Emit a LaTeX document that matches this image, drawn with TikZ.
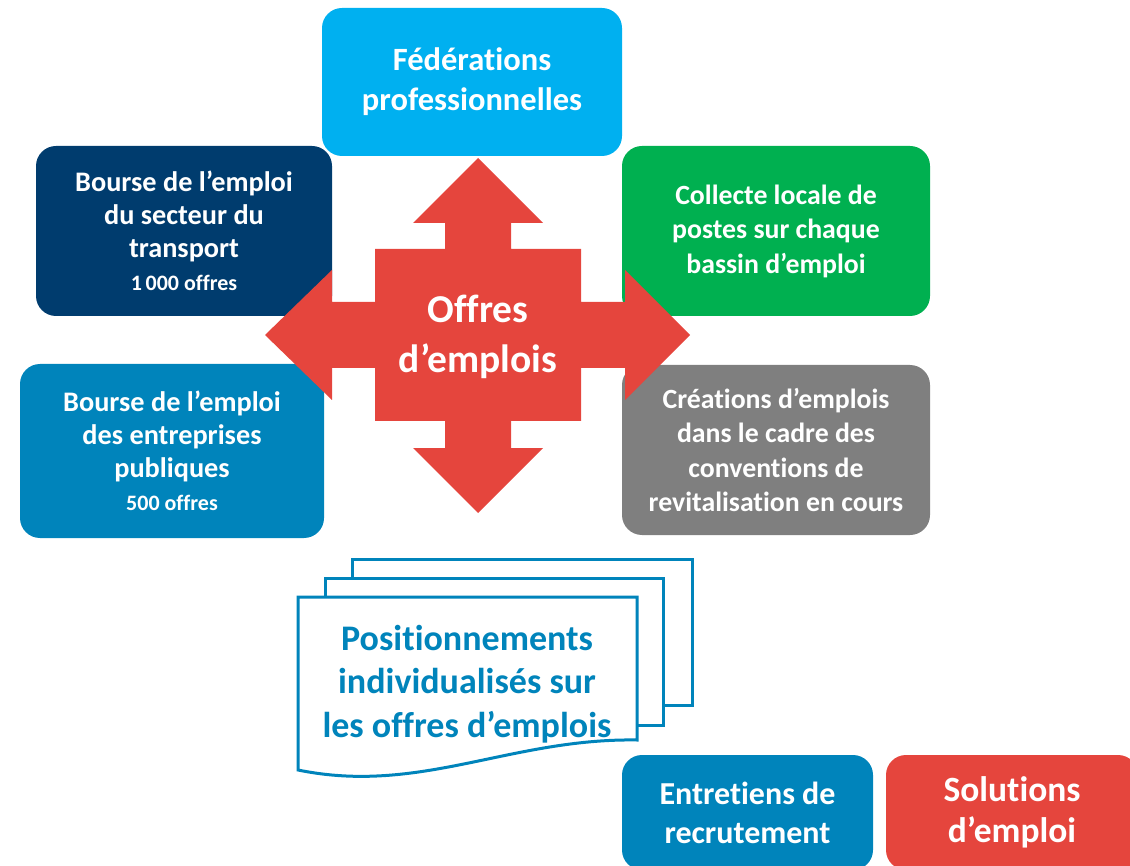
\documentclass[tikz,border=0pt]{standalone}
\usepackage{fontspec}
\setmainfont{Carlito}[Ligatures=NoCommon]
\usepackage{xcolor}
\usepackage{tikz}
\definecolor{ciel}{HTML}{00B0F0}
\definecolor{marine}{HTML}{003C6E}
\definecolor{vert}{HTML}{00B050}
\definecolor{bleu}{HTML}{0084BB}
\definecolor{gris}{HTML}{7F7F7F}
\definecolor{rouge}{HTML}{E5453D}

\begin{document}
\begin{tikzpicture}[x=1pt,y=-1pt,
	boite/.style={rounded corners=20pt,inner sep=0pt,align=center,text=white},
	feuille/.style={draw=bleu,line width=3pt,fill=white}]
	\useasboundingbox (0,0) rectangle (1130,866);
	\clip (0,0) rectangle (1130,866);
	% les cinq sources d'offres
	\node[boite,fill=ciel,minimum width=300pt,minimum height=148pt,font=\bfseries\fontsize{32.5}{40}\selectfont] (federations) at (472,82) {Fédérations\\professionnelles};
	\node[boite,fill=marine,minimum width=296pt,minimum height=170pt,font=\bfseries\fontsize{28.3}{33}\selectfont] (transport) at (184,231) {Bourse de l’emploi\\du secteur du\\transport\\{\fontsize{22}{26}\selectfont 1\,000 offres}};
	\node[boite,fill=vert,minimum width=308pt,minimum height=170pt,font=\bfseries\fontsize{27.8}{34.5}\selectfont] (collecte) at (776,231) {Collecte locale de\\postes sur chaque\\bassin d’emploi};
	\node[boite,fill=bleu,minimum width=304pt,minimum height=174pt,font=\bfseries\fontsize{28.3}{33}\selectfont] (publiques) at (172,451) {Bourse de l’emploi\\des entreprises\\publiques\\{\fontsize{22}{26}\selectfont 500 offres}};
	\node[boite,fill=gris,minimum width=308pt,minimum height=170pt,font=\bfseries\fontsize{27.8}{34.3}\selectfont] (creations) at (776,450) {Créations d’emplois\\dans le cadre des\\conventions de\\revitalisation en cours};
	% la croix
	\fill[rouge] (478,158) -- (543,223) -- (511,223) -- (511,249) -- (581,249) -- (581,302) -- (625,302) -- (625,270) -- (690,335) -- (625,400) -- (625,368) -- (581,368) -- (581,421) -- (511,421) -- (511,448) -- (543,448) -- (478,513) -- (413,448) -- (445,448) -- (445,421) -- (375,421) -- (375,368) -- (332,368) -- (332,400) -- (265,335) -- (332,270) -- (332,302) -- (375,302) -- (375,249) -- (445,249) -- (445,223) -- (413,223) -- cycle;
	\node[align=center,text=white,font=\bfseries\fontsize{39.5}{50}\selectfont] (offres) at (478,337) {Offres\\d’emplois};
	% pile de documents
	\draw[feuille] (352,559) rectangle (692,705);
	\draw[feuille] (325,578) rectangle (663,725);
	\draw[feuille] (298,597) -- (637,597) -- (637,740) .. controls (510,738) and (420,795) .. (298,770) -- cycle;
	\node[align=center,text=bleu,font=\bfseries\fontsize{36}{43.5}\selectfont] (positionnements) at (467,684) {Positionnements\\individualisés sur\\les offres d’emplois};
	% en bas
	\node[boite,fill=bleu,minimum width=251pt,minimum height=115pt,font=\bfseries\fontsize{32}{39}\selectfont] (entretiens) at (747.5,812.5) {Entretiens de\\recrutement};
	\node[boite,fill=rouge,minimum width=252pt,minimum height=115pt,font=\bfseries\fontsize{35.5}{41}\selectfont] (solutions) at (1012,812.5) {Solutions\\d’emploi};
\end{tikzpicture}
\end{document}
